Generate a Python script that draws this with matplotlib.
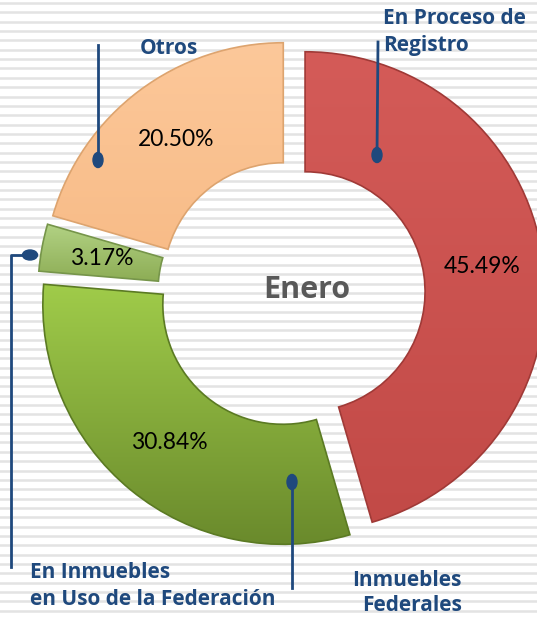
import matplotlib.pyplot as plt
import numpy as np
from matplotlib.colors import LinearSegmentedColormap
from matplotlib.patches import Ellipse, PathPatch

# data
labels = ['En Proceso de\nRegistro', 'Inmuebles\nFederales',
          'En Inmuebles\nen Uso de la Federación', 'Otros']
values = [45.49, 30.84, 3.17, 20.50]
center_title = 'Enero'

# gradient colours per wedge (top, bottom)
shades = [('#D45B58', '#C24A47'), ('#A0CC4A', '#6A8A2C'),
          ('#B2D284', '#8DAD55'), ('#FCC89A', '#F8BC88')]
edge_cols = ['#A03A37', '#5B7A23', '#76954A', '#DDA46F']
blue = '#1F497D'

W, H = 537, 620
def py(y):
    return H - y

plt.rcParams['font.family'] = ['Lato', 'DejaVu Sans']
bold_font = ['Open Sans', 'DejaVu Sans']

fig = plt.figure(figsize=(W / 100, H / 100), dpi=100)
ax = fig.add_axes([0, 0, 1, 1])

# striped background
for y in np.arange(3, H, 9.35):
    ax.axhline(py(y), color='#e3e3e3', lw=1.8, zorder=0)

R = 240
wedges, _, pcts = ax.pie(values, radius=R, center=(291.5, py(293.7)),
                         startangle=90, counterclock=False,
                         explode=[13.7] * 4, autopct='%.2f%%', pctdistance=0.745,
                         wedgeprops=dict(width=120, linewidth=0),
                         textprops=dict(fontsize=16.5, color='black'))

grad = np.linspace(0, 1, 256).reshape(-1, 1)
for w, (c1, c2), ec in zip(wedges, shades, edge_cols):
    w.set_facecolor(c1)
    w.set_zorder(1)
    cmap = LinearSegmentedColormap.from_list('g', [c1, c2])
    x0, y0, x1, y1 = w.get_path().get_extents().extents
    im = ax.imshow(grad, cmap=cmap, extent=(x0, x1, y0, y1), origin='upper',
                   aspect='auto', zorder=1.5)
    im.set_clip_path(w)
    # darker outline on top of the gradient
    ax.add_patch(PathPatch(w.get_path(), fill=False, edgecolor=ec, lw=1.2,
                           zorder=1.6))

for t in pcts:
    t.set_zorder(3)

ax.text(307, py(290), center_title, ha='center', va='center', fontsize=22,
        fontweight='bold', color='#595959', family=bold_font, zorder=3)

# leader lines and category labels
def dot(x, y, horiz=False):
    w_, h_ = (15, 10) if horiz else (10, 15)
    ax.add_patch(Ellipse((x, py(y)), w_, h_, color=blue, zorder=4))

lk = dict(color=blue, lw=2, zorder=4)
tk = dict(fontsize=15, fontweight='bold', color=blue, family=bold_font,
          zorder=4)
# En Proceso de Registro
ax.plot([378, 377], [py(42), py(155)], **lk)
dot(377, 155)
ax.text(383, py(32), labels[0], ha='left', va='center', linespacing=1.4, **tk)
# Otros
ax.plot([98, 98], [py(45), py(160)], **lk)
dot(98, 160)
ax.text(169, py(49), labels[3], ha='center', va='center', **tk)
# Inmuebles Federales
ax.plot([292, 292], [py(482), py(588)], **lk)
dot(292, 482)
ax.text(462, py(593), labels[1], ha='right', va='center', linespacing=1.3, **tk)
# En Inmuebles en Uso de la Federacion
ax.plot([30, 11, 11], [py(255), py(255), py(567)], **lk)
dot(30, 255, horiz=True)
ax.text(30, py(586), labels[2], ha='left', va='center', linespacing=1.4, **tk)

ax.set_xlim(0, W)
ax.set_ylim(0, H)
ax.set_aspect('equal')
ax.axis('off')
fig.savefig('out.png', dpi=100, facecolor='white')
